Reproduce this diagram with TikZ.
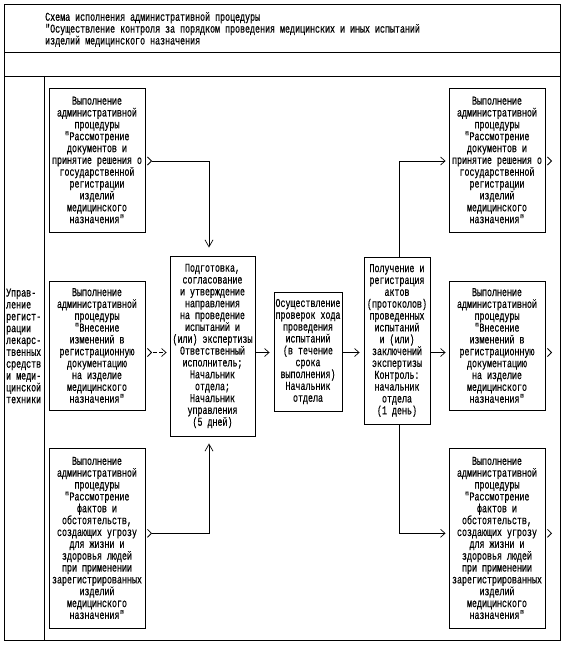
\documentclass[tikz,border=0pt]{standalone}
\usepackage{fontspec}
\newfontfamily\dgfamily{Liberation Mono}[FakeStretch=0.694,FakeBold=0.4]
\newcommand\dgfont{\dgfamily\fontsize{12pt}{11.85pt}\selectfont}
\usetikzlibrary{arrows.meta,calc}
\begin{document}
\begin{tikzpicture}[x=1pt,y=-1pt,
  every node/.style={font=\dgfont, inner sep=0pt},
  box/.style={draw, line width=0.9pt, align=center},
  frame/.style={line width=0.9pt},
  conn/.style={line width=0.9pt},
  htip/.style={-{Straight Barb[length=4.5pt,width=8pt,line width=0.7pt]}},
  vtip/.style={-{Straight Barb[length=7pt,width=8pt,line width=0.7pt]}},
  chev/.pic={\draw[line width=0.8pt] (-2,-4) -- (2,0) -- (-2,4);}
]
\useasboundingbox (0,0) rectangle (567,650);
% frame
\draw[frame] (4,4) rectangle (560,640);
\draw[frame] (4,52) -- (560,52);
\draw[frame] (4,76) -- (560,76);
\draw[frame] (44,76) -- (44,640);

\node[anchor=north west, align=left] (title) at (45,12) {Схема исполнения административной процедуры\\"Осуществление контроля за порядком проведения медицинских и иных испытаний\\изделий медицинского назначения};

\node[anchor=west, align=left] (lbl) at (6,346) {Управ-\\ление\\регист-\\рации\\лекарс-\\твенных\\средств\\и меди-\\цинской\\техники};

% row / column coordinates
\coordinate (rA) at (0,161);
\coordinate (rB) at (0,352.5);
\coordinate (rC) at (0,533.3);
\coordinate (c4) at (209,0);
\coordinate (c6) at (399,0);

% boxes
\node[box, minimum width=96pt, minimum height=144pt] (L1) at (97,160) {Выполнение\\административной\\процедуры\\"Рассмотрение\\документов и\\принятие решения о\\государственной\\регистрации\\изделий\\медицинского\\назначения"};
\node[box, minimum width=96pt, minimum height=129pt] (L2) at (97,345.5) {Выполнение\\административной\\процедуры\\"Внесение\\изменений в\\регистрационную\\документацию\\на изделие\\медицинского\\назначения"};
\node[box, minimum width=96pt, minimum height=180pt] (L3) at (97,538) {Выполнение\\административной\\процедуры\\"Рассмотрение\\фактов и\\обстоятельств,\\создающих угрозу\\для жизни и\\здоровья людей\\при применении\\зарегистрированных\\изделий\\медицинского\\назначения"};

\node[box, minimum width=85pt, minimum height=180pt] (B4) at (212.5,346) {Подготовка,\\согласование\\и утверждение\\направления\\на проведение\\испытаний и\\(или) экспертизы\\Ответственный\\исполнитель;\\Начальник\\отдела;\\Начальник\\управления\\(5 дней)};
\node[box, minimum width=68pt, minimum height=119pt] (B5) at (308,351.5) {Осуществление\\проверок хода\\проведения\\испытаний\\(в течение\\срока\\выполнения)\\Начальник\\отдела};
\node[box, minimum width=66pt, minimum height=167pt] (B6) at (397,340.5) {Получение и\\регистрация\\актов\\(протоколов)\\проведенных\\испытаний\\и (или)\\заключений\\экспертизы\\Контроль:\\начальник\\отдела\\(1 день)};

\node[box, minimum width=96pt, minimum height=144pt] (R1) at (497,160) {Выполнение\\административной\\процедуры\\"Рассмотрение\\документов и\\принятие решения о\\государственной\\регистрации\\изделий\\медицинского\\назначения"};
\node[box, minimum width=96pt, minimum height=129pt] (R2) at (497,345.5) {Выполнение\\административной\\процедуры\\"Внесение\\изменений в\\регистрационную\\документацию\\на изделие\\медицинского\\назначения"};
\node[box, minimum width=96pt, minimum height=180pt] (R3) at (497,538) {Выполнение\\административной\\процедуры\\"Рассмотрение\\фактов и\\обстоятельств,\\создающих угрозу\\для жизни и\\здоровья людей\\при применении\\зарегистрированных\\изделий\\медицинского\\назначения"};

% chevrons at box exits
\pic at ($(L1.east |- rA)+(4,0)$) {chev};
\pic at ($(L2.east |- rB)+(4,0)$) {chev};
\pic at ($(L3.east |- rC)+(4,0)$) {chev};
\pic at ($(R1.east |- rA)+(4,0)$) {chev};
\pic at ($(R2.east |- rB)+(4,0)$) {chev};
\pic at ($(R3.east |- rC)+(4,0)$) {chev};

% connectors
\draw[conn,vtip,shorten >=8pt] ($(L1.east |- rA)+(7,0)$) -| (B4.north -| c4);
\draw[conn,htip,dash pattern=on 4pt off 2pt] ($(L2.east |- rB)+(8,0)$) -- ($(B4.west |- rB)+(-3,0)$);
\draw[conn,vtip,shorten >=7pt] ($(L3.east |- rC)+(7,0)$) -| (B4.south -| c4);
\draw[conn,htip] (B4.east |- rB) -- ($(B5.west |- rB)+(-4,0)$);
\draw[conn,htip] (B5.east |- rB) -- ($(B6.west |- rB)+(-4,0)$);
\draw[conn,htip] (B6.north -| c6) |- ($(R1.west |- rA)+(-3,0)$);
\draw[conn,htip] (B6.east |- rB) -- ($(R2.west |- rB)+(-3,0)$);
\draw[conn,htip] (B6.south -| c6) |- ($(R3.west |- rC)+(-3,0)$);
\end{tikzpicture}
\end{document}
